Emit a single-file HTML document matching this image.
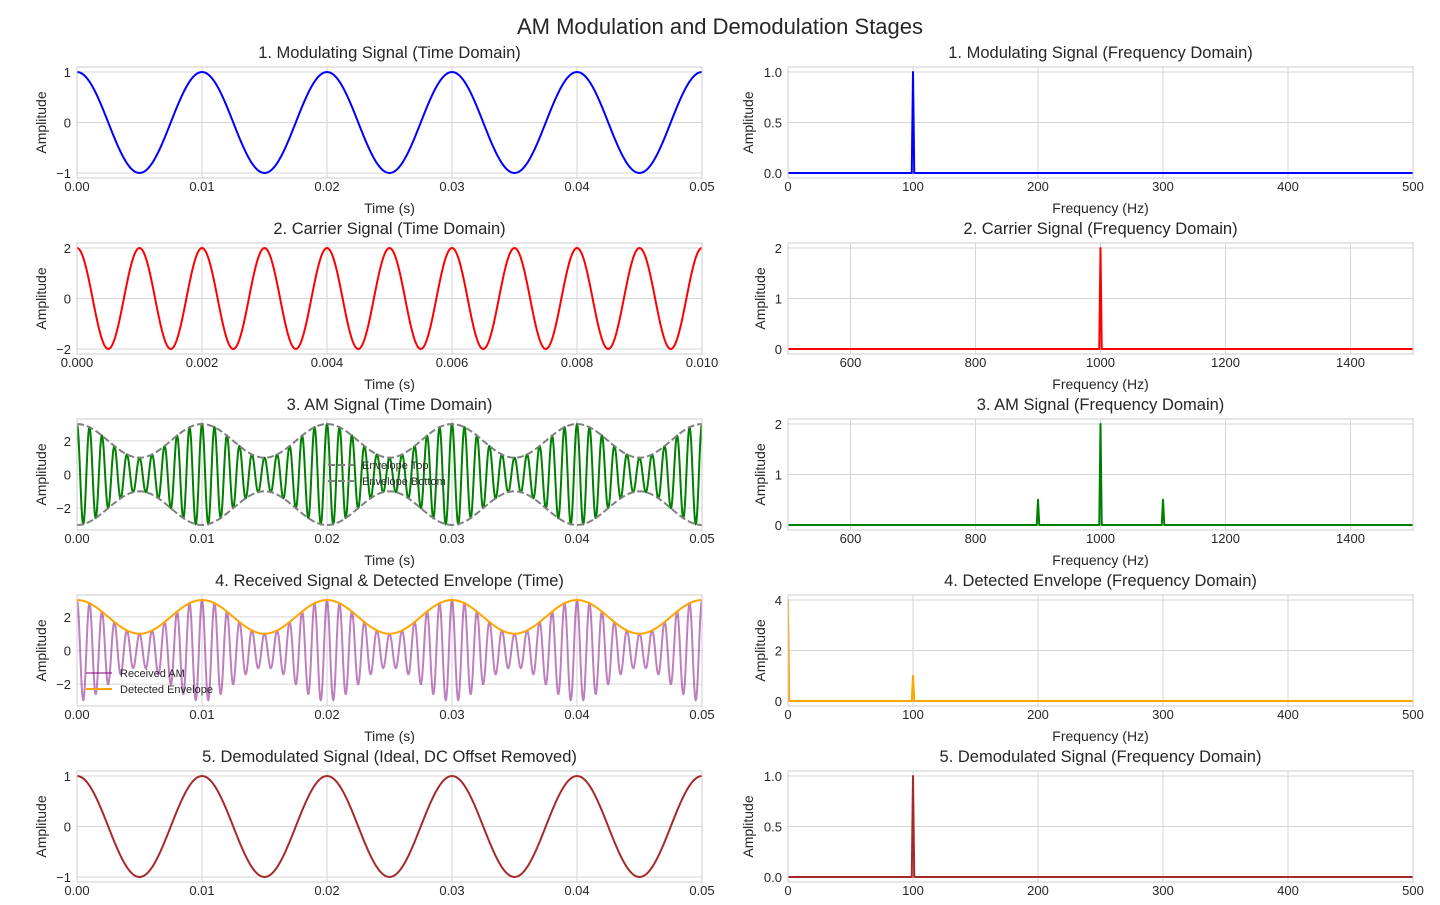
<!DOCTYPE html>
<html><head><meta charset="utf-8"><style>
body{margin:0;background:#fff;}
svg{display:block;font-family:"Liberation Sans","DejaVu Sans",sans-serif;}
</style></head><body>
<svg id="c" width="1440" height="905" viewBox="0 0 1440 905">
<text x="720" y="34" text-anchor="middle" font-size="22" fill="#262626">AM Modulation and Demodulation Stages</text>
</svg>
<script>
// ---- data ----
const modFreq = [100];          // Hz
const modAmp = [1];
const carrierFreq = [1000];     // Hz
const carrierAmp = [2];
const envelopeDC = [2];
const titlesLeft = ["1. Modulating Signal (Time Domain)","2. Carrier Signal (Time Domain)","3. AM Signal (Time Domain)","4. Received Signal & Detected Envelope (Time)","5. Demodulated Signal (Ideal, DC Offset Removed)"];
const titlesRight = ["1. Modulating Signal (Frequency Domain)","2. Carrier Signal (Frequency Domain)","3. AM Signal (Frequency Domain)","4. Detected Envelope (Frequency Domain)","5. Demodulated Signal (Frequency Domain)"];
const leftTimeSpan = [0.05,0.01,0.05,0.05,0.05];
const leftYLim = [1.1,2.2,3.3,3.3,1.1];
const leftYTicks = [[-1,0,1],[-2,0,2],[-2,0,2],[-2,0,2],[-1,0,1]];
const leftXTicks = [[0,0.01,0.02,0.03,0.04,0.05],[0,0.002,0.004,0.006,0.008,0.01],[0,0.01,0.02,0.03,0.04,0.05],[0,0.01,0.02,0.03,0.04,0.05],[0,0.01,0.02,0.03,0.04,0.05]];
const leftXTickLabels = [["0.00","0.01","0.02","0.03","0.04","0.05"],["0.000","0.002","0.004","0.006","0.008","0.010"],["0.00","0.01","0.02","0.03","0.04","0.05"],["0.00","0.01","0.02","0.03","0.04","0.05"],["0.00","0.01","0.02","0.03","0.04","0.05"]];
const rightXRange = [[0,500],[500,1500],[500,1500],[0,500],[0,500]];
const rightXTicks = [[0,100,200,300,400,500],[600,800,1000,1200,1400],[600,800,1000,1200,1400],[0,100,200,300,400,500],[0,100,200,300,400,500]];
const rightYMax = [1,2,2,4,1];
const rightYTicks = [[0,0.5,1],[0,1,2],[0,1,2],[0,2,4],[0,0.5,1]];
const rightYTickLabels = [["0.0","0.5","1.0"],["0","1","2"],["0","1","2"],["0","2","4"],["0.0","0.5","1.0"]];
const spec1Freq = [100], spec1Amp = [1];
const spec2Freq = [1000], spec2Amp = [2];
const spec3Freq = [900,1000,1100], spec3Amp = [0.5,2,0.5];
const spec4Freq = [0,100], spec4Amp = [4,1];
const spec5Freq = [100], spec5Amp = [1];
const colors = ["#0000ff","#ff0000","#008000","#ffa500","#a52a2a"];

const NS="http://www.w3.org/2000/svg";
const svg=document.getElementById('c');
function el(tag,attrs,parent){const e=document.createElementNS(NS,tag);for(const k in attrs)e.setAttribute(k,attrs[k]);(parent||svg).appendChild(e);return e;}
function txt(x,y,s,size,anchor,parent){const t=el('text',{x:x,y:y,'font-size':size,'text-anchor':anchor||'middle',fill:'#262626'},parent);t.textContent=s;return t;}
function fmt(v){return String(v).replace('-','\u2212');}

function axes(i,side){
  const x0=side==='L'?77:788,x1=side==='L'?702:1413,top=67+176*i,bot=top+111;
  const g=el('g',{});
  
  
  return {g,x0,x1,top,bot};
}
function buildAxis(a,xmin,xmax,ymin,ymax,xt,xtl,yt,ytl,title,xlabel,ylabelX){
  const sx=v=>a.x0+(v-xmin)/(xmax-xmin)*(a.x1-a.x0);
  const sy=v=>a.bot-(v-ymin)/(ymax-ymin)*(a.bot-a.top);
  xt.forEach((v,k)=>{el('line',{x1:sx(v),x2:sx(v),y1:a.top,y2:a.bot,stroke:'#d6d6d6','stroke-width':1},a.g);
    const t=txt(sx(v),a.bot+13,xtl[k],13,'middle',a.g);});
  yt.forEach((v,k)=>{el('line',{x1:a.x0,x2:a.x1,y1:sy(v),y2:sy(v),stroke:'#d6d6d6','stroke-width':1},a.g);
    const t=txt(a.x0-6,sy(v)+5,ytl[k],13,'end',a.g);});
  const tt=txt((a.x0+a.x1)/2,a.top-9,title,16.5,'middle',a.g);
  const xl=txt((a.x0+a.x1)/2,a.bot+35,xlabel,14,'middle',a.g);
  const cy=(a.top+a.bot)/2;
  const yl=txt(ylabelX,cy,'Amplitude',14,'middle',a.g);yl.setAttribute('transform','rotate(-90 '+ylabelX+' '+cy+')');
  
  return {sx,sy};
}
function frame(a){el('rect',{x:a.x0,y:a.top,width:a.x1-a.x0,height:a.bot-a.top,fill:'none',stroke:'#cccccc','stroke-width':1},a.g);}
function pathFrom(fn,tmax,sx,sy,n){let d='';for(let k=0;k<=n;k++){const t=tmax*k/n;d+=(k?'L':'M')+sx(t).toFixed(2)+','+sy(fn(t)).toFixed(2);}return d;}
function clipFor(a,id){const cp=el('clipPath',{id:id},a.g);el('rect',{x:a.x0,y:a.top,width:a.x1-a.x0,height:a.bot-a.top},cp);return 'url(#'+id+')';}

const W=2*Math.PI;
const fm=modFreq[0],Am=modAmp[0],fc=carrierFreq[0],Ac=carrierAmp[0],dc=envelopeDC[0];
const sigs=[
  t=>Am*Math.cos(W*fm*t),
  t=>Ac*Math.cos(W*fc*t),
  t=>(dc+Am*Math.cos(W*fm*t))*Math.cos(W*fc*t),
  t=>(dc+Am*Math.cos(W*fm*t))*Math.cos(W*fc*t),
  t=>Am*Math.cos(W*fm*t)
];
const specF=[spec1Freq,spec2Freq,spec3Freq,spec4Freq,spec5Freq];
const specA=[spec1Amp,spec2Amp,spec3Amp,spec4Amp,spec5Amp];

for(let i=0;i<5;i++){
  const a=axes(i,'L');
  const {sx,sy}=buildAxis(a,0,leftTimeSpan[i],-leftYLim[i],leftYLim[i],leftXTicks[i],leftXTickLabels[i],leftYTicks[i],leftYTicks[i].map(fmt),titlesLeft[i],'Time (s)',46);
  const cl=clipFor(a,'cl'+i);
  const n=i===1?1200:3000;
  if(i===3){
    const p=el('path',{d:pathFrom(sigs[3],leftTimeSpan[i],sx,sy,n),fill:'none',stroke:'#800080','stroke-opacity':0.5,'stroke-width':2,'clip-path':cl},a.g);
    
    const e=el('path',{d:pathFrom(t=>dc+Am*Math.cos(W*fm*t),leftTimeSpan[i],sx,sy,600),fill:'none',stroke:'#ffa500','stroke-width':2,'clip-path':cl},a.g);
    
  } else {
    const p=el('path',{d:pathFrom(sigs[i],leftTimeSpan[i],sx,sy,n),fill:'none',stroke:colors[i],'stroke-width':2,'clip-path':cl},a.g);
    
    if(i===2){
      const et=el('path',{d:pathFrom(t=>dc+Am*Math.cos(W*fm*t),leftTimeSpan[i],sx,sy,600),fill:'none',stroke:'#808080','stroke-width':2,'stroke-dasharray':'7,3','clip-path':cl},a.g);
      
      const eb=el('path',{d:pathFrom(t=>-(dc+Am*Math.cos(W*fm*t)),leftTimeSpan[i],sx,sy,600),fill:'none',stroke:'#808080','stroke-width':2,'stroke-dasharray':'7,3','clip-path':cl},a.g);
      
    }
  }
  frame(a);
  const b=axes(i,'R');
  const [xa,xb]=rightXRange[i];const ym=rightYMax[i]*0.05;
  const ylx=(rightYTickLabels[i][0].length>1)?753:765;
  const r=buildAxis(b,xa,xb,-ym,rightYMax[i]+ym,rightXTicks[i],rightXTicks[i].map(String),rightYTicks[i],rightYTickLabels[i],titlesRight[i],'Frequency (Hz)',ylx);
  const cr=clipFor(b,'cr'+i);
  const w=(xb-xa)>600?2:1;
  let d='M'+r.sx(xa)+','+r.sy(0);
  const fs=specF[i],as=specA[i];
  fs.forEach((f,k)=>{d+='L'+r.sx(Math.max(xa,f-w))+','+r.sy(0)+'L'+r.sx(f)+','+r.sy(as[k])+'L'+r.sx(f+w)+','+r.sy(0);});
  d+='L'+r.sx(xb)+','+r.sy(0);
  const sp=el('path',{d:d,fill:'none',stroke:colors[i],'stroke-width':2,'stroke-linejoin':'round','clip-path':cr},b.g);
  
  frame(b);
}
function legend(x,y,items){
  const g=el('g',{});
  
  
  items.forEach((it,k)=>{
    const yy=y+k*16;
    el('line',{x1:x,x2:x+26,y1:yy,y2:yy,stroke:it.c,'stroke-width':2,'stroke-opacity':it.o||1,'stroke-dasharray':it.dash||''},g);
    const t=txt(x+34,yy+4,it.label,11,'start',g);
    
    
  });
}
legend(328,465,[{c:'#808080',label:'Envelope Top',dash:'7,3'},{c:'#808080',label:'Envelope Bottom',dash:'7,3'}]);
legend(86,673,[{c:'#800080',o:0.5,label:'Received AM'},{c:'#ffa500',label:'Detected Envelope'}]);
</script>
</body></html>
